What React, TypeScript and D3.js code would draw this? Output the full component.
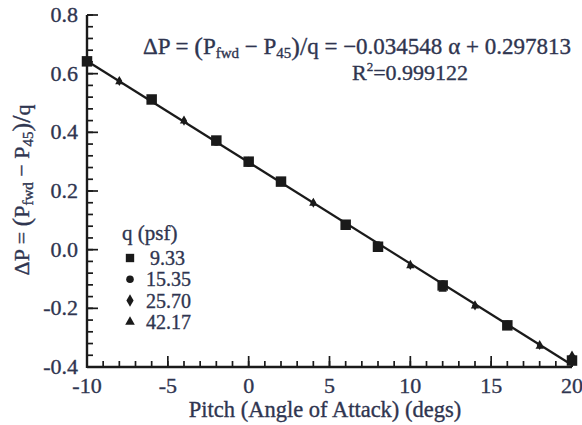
import React from "react";
import * as d3 from "d3";

const W = 582, H = 425;
const xDomain: [number, number] = [-10, 20];
const yDomain: [number, number] = [-0.4, 0.8];
const xMajor = [-10, -5, 0, 5, 10, 15, 20];
const yMajor = [-0.4, -0.2, 0.0, 0.2, 0.4, 0.6, 0.8];

const sqAlpha = [-10, -6, -2, 0, 2, 6, 8, 12, 16, 20];
const sqVal = [0.642, 0.512, 0.372, 0.300, 0.232, 0.085, 0.010, -0.122, -0.258, -0.378];
const ciAlpha = [-10, -2, 0, 8, 12, 16, 20];
const ciVal = [0.640, 0.368, 0.296, 0.015, -0.118, -0.255, -0.37];
const diAlpha = [-8, -4, 0, 4, 10, 14, 18, 20];
const diVal = [0.575, 0.44, 0.30, 0.16, -0.052, -0.19, -0.325, -0.365];
const trAlpha = [-8, -4, 4, 10, 12, 14, 18, 20];
const trVal = [0.572, 0.438, 0.158, -0.055, -0.135, -0.192, -0.33, -0.36];

const fitSlope = -0.034548;
const fitIntercept = 0.297813;

const legendLabels = ["9.33", "15.35", "25.70", "42.17"];

const TXT = "#2f3550";
const INK = "#1a1a1a";
const FONT = "'Liberation Serif', 'Times New Roman', serif";

export default function App() {
  const x = d3.scaleLinear().domain(xDomain).range([87, 572]);
  const y = d3.scaleLinear().domain(yDomain).range([367, 15]);
  const xMinor = d3.range(-10, 20.001, 1);
  const yMinor = d3.range(-0.4, 0.8001, 0.04);
  const line = d3.line<number>().x((a) => x(a)).y((a) => y(fitSlope * a + fitIntercept));
  const sq = d3.symbol(d3.symbolSquare, 110);
  const ci = d3.symbol(d3.symbolCircle, 50);
  const di = d3.symbol(d3.symbolDiamond, 30);
  const tr = d3.symbol(d3.symbolTriangle, 30);
  const series = [
    { a: sqAlpha, v: sqVal, p: sq() },
    { a: ciAlpha, v: ciVal, p: ci() },
    { a: diAlpha, v: diVal, p: di() },
    { a: trAlpha, v: trVal, p: tr() },
  ];
  const legendSyms = [
    d3.symbol(d3.symbolSquare, 70)(),
    d3.symbol(d3.symbolCircle, 45)(),
    d3.symbol(d3.symbolDiamond, 45)(),
    d3.symbol(d3.symbolTriangle, 40)(),
  ];
  const fmt = (v: number) => (Math.abs(v) < 1e-9 ? "0.0" : v.toFixed(1));
  const tStyle = { stroke: TXT, strokeWidth: 0.35 };
  return (
    <svg width={W} height={H} style={{ position: "absolute", left: 0, top: 0, background: "#fff" }} fontFamily={FONT}>
      {xMinor.map((t) => (
        <line key={"xm" + t} x1={x(t)} x2={x(t)} y1={y(-0.4)} y2={y(-0.4) - 6} stroke={INK} strokeWidth={1.7} />
      ))}
      {xMajor.map((t) => (
        <line key={"xM" + t} x1={x(t)} x2={x(t)} y1={y(-0.4)} y2={y(-0.4) - 11} stroke={INK} strokeWidth={1.7} />
      ))}
      {yMinor.map((t, i) => (
        <line key={"ym" + i} x1={x(-10)} x2={x(-10) + 6} y1={y(t)} y2={y(t)} stroke={INK} strokeWidth={1.7} />
      ))}
      {yMajor.map((t) => (
        <line key={"yM" + t} x1={x(-10)} x2={x(-10) + 11} y1={y(t)} y2={y(t)} stroke={INK} strokeWidth={1.7} />
      ))}
      <line x1={x(-10)} x2={x(20)} y1={y(-0.4)} y2={y(-0.4)} stroke={INK} strokeWidth={2.4} />
      <line x1={x(-10)} x2={x(-10)} y1={y(-0.4) + 1} y2={y(0.8)} stroke={INK} strokeWidth={2.4} />

      {xMajor.map((t) => (
        <text key={"xl" + t} x={x(t)} y={393} textAnchor="middle" fontSize={22} fill={TXT} {...tStyle}>{String(t)}</text>
      ))}
      {yMajor.map((t) => (
        <text key={"yl" + t} x={78} y={y(t) + 7} textAnchor="end" fontSize={22} fill={TXT} {...tStyle}>{fmt(t)}</text>
      ))}

      <path d={line([-10, 20]) || ""} stroke={INK} strokeWidth={2.2} fill="none" />

      {series.map((s, si) =>
        s.a.map((a, i) => (
          <path key={si + "-" + i} d={s.p || ""} transform={`translate(${x(a)},${y(s.v[i])})`} fill={INK} />
        ))
      )}

      <text x={122} y={240} fontSize={21} fill={TXT} {...tStyle}>q  (psf)</text>
      {legendLabels.map((l, i) => (
        <g key={l}>
          <path d={legendSyms[i] || ""} transform={`translate(130,${258 + i * 21.3})`} fill={INK} />
          <text x={i === 0 ? 150 : 146} y={258 + i * 21.3 + 7} fontSize={20} fill={TXT} {...tStyle}>{l}</text>
        </g>
      ))}

      <text x={143} y={54} fontSize={23} fill={TXT} {...tStyle}>
        <tspan>ΔP = </tspan>
        <tspan fontSize={26} dy={1}>(</tspan>
        <tspan dy={-1}>P</tspan>
        <tspan fontSize={15} dy={4}>fwd</tspan>
        <tspan dy={-4}> − P</tspan>
        <tspan fontSize={15} dy={4}>45</tspan>
        <tspan fontSize={26} dy={-3}>)</tspan>
        <tspan fontSize={26}>/</tspan>
        <tspan dy={-1}>q = −0.034548</tspan>
        <tspan> α</tspan>
        <tspan> + 0.297813</tspan>
      </text>
      <text x={352} y={80} fontSize={22} fill={TXT} {...tStyle}>
        <tspan>R</tspan>
        <tspan fontSize={13} dy={-9}>2</tspan>
        <tspan dy={9}>=0.999122</tspan>
      </text>

      <text x={325} y={417} textAnchor="middle" fontSize={22.5} fill={TXT} {...tStyle}>Pitch (Angle of Attack) (degs)</text>
      <text transform="translate(29,190) rotate(-90)" textAnchor="middle" fontSize={22} fill={TXT} {...tStyle}>
        <tspan>ΔP = </tspan>
        <tspan fontSize={26} dy={1}>(</tspan>
        <tspan dy={-1}>P</tspan>
        <tspan fontSize={15} dy={4}>fwd</tspan>
        <tspan dy={-4}> − P</tspan>
        <tspan fontSize={15} dy={4}>45</tspan>
        <tspan fontSize={26} dy={-3}>)</tspan>
        <tspan fontSize={26}>/</tspan>
        <tspan>q</tspan>
      </text>
    </svg>
  );
}
